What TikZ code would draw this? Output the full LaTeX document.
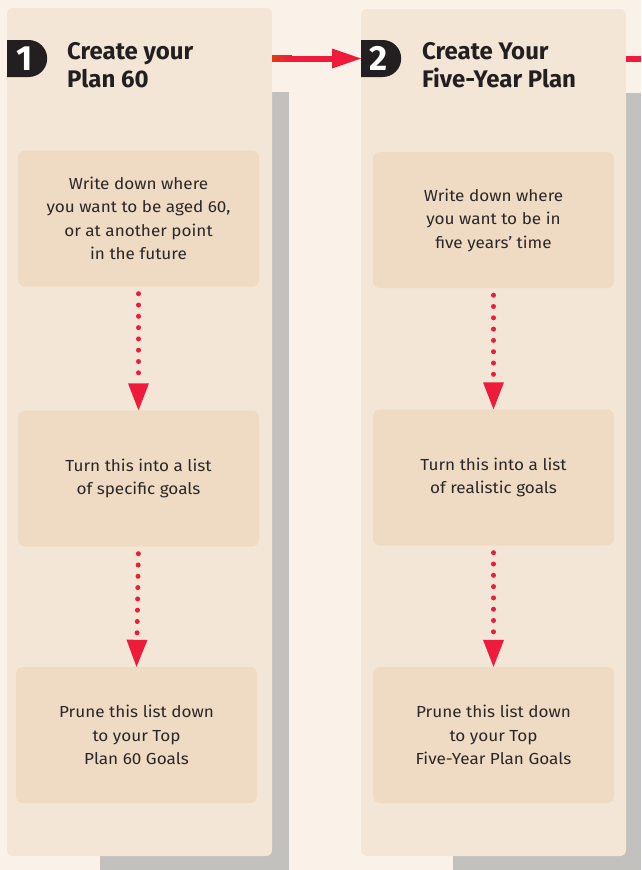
\documentclass[tikz,border=0pt]{standalone}
\usepackage{fontspec}
\setmainfont{Fira Sans}
\newfontfamily\bodyfont[FakeStretch=1.07]{Fira Sans}
\usetikzlibrary{arrows.meta,shapes.misc}
\definecolor{bgc}{HTML}{FAF2E9}
\definecolor{panelc}{HTML}{F3E6D6}
\definecolor{boxc}{HTML}{EFDBC3}
\definecolor{shadowc}{HTML}{C2C1BD}
\definecolor{redc}{HTML}{EE1B3A}
\definecolor{darkc}{HTML}{231F20}
\definecolor{txtc}{HTML}{2B2728}
\tikzset{
  panel/.style={rectangle, rounded corners=6pt, fill=panelc, minimum width=265pt, minimum height=848pt, inner sep=0pt},
  stepbox/.style={rectangle, rounded corners=7pt, fill=boxc, minimum width=241pt, minimum height=136pt, inner sep=0pt, align=center, text=txtc, font=\bodyfont\fontsize{16}{23.5}\selectfont},
  badge/.style={rounded rectangle, rounded rectangle left arc=none, fill=darkc, minimum width=40pt, minimum height=37pt, inner sep=0pt, text=white, font=\fontsize{35}{35}\selectfont\bfseries},
  title/.style={anchor=north west, inner sep=0pt, align=left, text=darkc, font=\fontsize{24}{27.5}\selectfont\bfseries},
  dotarrow/.style={draw=redc, line width=5pt, line cap=round, dash pattern=on 0pt off 11.3pt, shorten <=7pt, -{Triangle[width=21pt,length=27pt,line width=0pt,round=false]}},
  redline/.style={draw=redc, line width=6pt},
}
\begin{document}
\begin{tikzpicture}[x=1pt,y=-1pt]
\useasboundingbox (0,0) rectangle (641,870);
\fill[bgc] (0,0) rectangle (641,870);
% shadows
\fill[shadowc] (100,92) rectangle (289,870);
\fill[shadowc] (453,93) rectangle (641,870);
% panels
\node[panel] (p1) at (139.5,432) {};
\node[panel, minimum height=847pt] (p2) at (493.5,432.5) {};
% badges and titles
\node[badge, anchor=west] (b1) at (7,58.5) {1};
\node[badge, anchor=west] (b2) at (361,58.5) {2};
\node[title] (t1) at (67,42.5) {Create your\\Plan 60};
\node[title] (t2) at (422,42.5) {Create Your\\Five-Year Plan};
% connectors between panels
\draw[redline, -{Triangle[width=20pt,length=29pt,line width=0pt,round=false]}] (p1.east |- b2.west) -- (b2.west);
\shade[left color=red!55!brown, right color=redc] (272,55) rectangle (292,61);
\coordinate (out) at (641,58.5);
\draw[redline] (p2.east |- out) -- (out);
% panel 1 boxes
\node[stepbox] (a1) at (138.5,218.5) {Write down where\\you want to be aged 60,\\or at another point\\in the future};
\node[stepbox] (a2) at (138.5,478.5) {Turn this into a list\\of specific goals};
\node[stepbox] (a3) at (136.5,735) {Prune this list down\\to your Top\\Plan 60 Goals};
% panel 2 boxes
\node[stepbox] (c1) at (493.5,220) {Write down where\\you want to be in\\five years’ time};
\node[stepbox] (c2) at (493.5,477.5) {Turn this into a list\\of realistic goals};
\node[stepbox] (c3) at (493.5,735) {Prune this list down\\to your Top\\Five-Year Plan Goals};
% dotted arrows
\draw[dotarrow] (a1.south) -- (a2.north);
\draw[dotarrow] (a2.south) -- (a3.north);
\draw[dotarrow] (c1.south) -- (c2.north);
\draw[dotarrow] (c2.south) -- (c3.north);
\end{tikzpicture}
\end{document}
